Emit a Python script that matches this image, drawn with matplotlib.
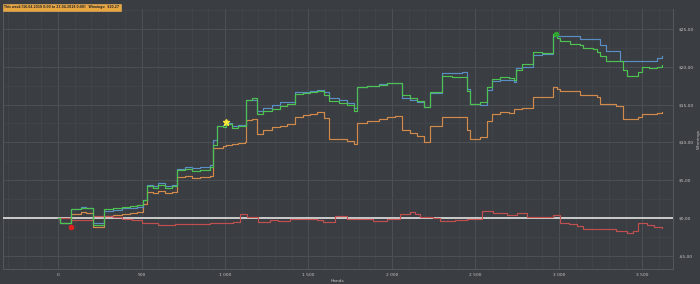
import matplotlib
matplotlib.use("Agg")
import matplotlib.pyplot as plt
from matplotlib.ticker import MultipleLocator, FuncFormatter

# ---- data ----
hands = [0, 10, 76, 136, 170, 212, 272, 330, 380, 430, 470, 507, 531, 570, 600,
         640, 680, 710, 760, 800, 850, 910, 925, 950, 990, 1005, 1040, 1080,
         1120, 1126, 1160, 1190, 1230, 1280, 1330, 1370, 1420, 1470, 1510,
         1550, 1590, 1620, 1680, 1730, 1770, 1790, 1850, 1920, 1970, 2020,
         2060, 2110, 2150, 2190, 2230, 2300, 2360, 2420, 2450, 2470, 2530,
         2570, 2600, 2650, 2700, 2730, 2745, 2780, 2846, 2900, 2965, 2990,
         3006, 3066, 3126, 3146, 3206, 3226, 3245, 3285, 3345, 3365, 3385,
         3405, 3475, 3495, 3540, 3585, 3620]
net_won = [0, -0.6, 1.15, 1.4, 1.3, -0.9, 1.15, 1.35, 1.5, 1.6, 1.7, 2.46, 4.2,
           4.0, 4.4, 4.0, 4.2, 6.3, 6.5, 6.2, 6.4, 6.75, 9.6, 12.2, 12.0, 12.4,
           11.9, 12.2, 12.2, 15.6, 15.8, 13.8, 14.1, 14.4, 14.8, 15.1, 16.4,
           16.5, 16.6, 16.8, 16.3, 15.5, 15.2, 14.9, 14.2, 17.3, 17.4, 17.6,
           17.8, 17.9, 16.2, 15.8, 15.5, 14.7, 16.6, 18.8, 18.6, 18.7, 16.8,
           15.1, 15.3, 17.3, 18.4, 18.7, 18.5, 18.3, 19.6, 20.4, 21.9, 21.8,
           24.3, 23.8, 23.4, 23.0, 22.9, 22.5, 22.3, 21.9, 21.4, 20.8, 20.8,
           20.8, 19.5, 18.8, 19.3, 19.9, 19.8, 20.0, 20.27]
allin_ev = [0, -0.6, 1.2, 1.45, 1.35, -0.7, 0.9, 1.1, 1.3, 1.4, 1.5, 2.4, 4.4,
            4.2, 4.6, 4.3, 4.4, 6.5, 6.8, 6.6, 6.8, 7.0, 10.3, 12.2, 12.3,
            12.6, 12.2, 12.3, 12.2, 15.6, 15.6, 14.2, 14.6, 15.0, 15.3, 15.4,
            16.6, 16.7, 16.8, 16.9, 16.6, 15.9, 15.6, 15.2, 14.6, 17.3, 17.5,
            17.7, 17.8, 17.9, 15.8, 15.6, 15.3, 14.7, 16.5, 19.2, 19.2, 19.3,
            17.0, 15.1, 15.0, 16.9, 18.1, 18.3, 18.2, 18.0, 19.8, 19.9, 21.6,
            21.7, 24.1, 24.1, 24.1, 24.1, 23.6, 23.6, 23.6, 23.6, 22.8, 22.1,
            22.1, 20.8, 20.8, 20.8, 20.8, 20.8, 20.8, 21.1, 21.4]
showdown = [0, -0.7, 0.6, 0.8, 0.75, -1.2, 0.25, 0.45, 0.55, 0.7, 0.8, 1.9, 3.5,
            3.3, 3.6, 3.3, 3.5, 5.4, 5.6, 5.3, 5.5, 5.6, 9.2, 9.3, 9.5, 9.6,
            9.8, 9.9, 10.0, 12.9, 13.1, 11.1, 11.6, 12.0, 12.2, 12.4, 13.3,
            13.6, 13.8, 14.0, 13.2, 10.5, 10.4, 10.2, 9.8, 12.5, 12.8, 13.1,
            13.3, 13.5, 11.6, 11.2, 10.9, 10.1, 12.2, 13.3, 13.3, 13.4, 11.6,
            10.5, 10.7, 12.8, 13.8, 14.0, 13.9, 14.4, 14.4, 14.5, 16.0, 16.0,
            17.3, 17.0, 16.8, 16.8, 16.2, 16.2, 16.2, 16.0, 15.1, 15.1, 14.8,
            14.8, 13.1, 13.1, 13.4, 13.8, 13.7, 13.9, 14.0]

red_hands = [0, 75, 130, 210, 270, 330, 380, 440, 500, 560, 600, 650, 700, 850,
             910, 1050, 1090, 1130, 1200, 1270, 1320, 1390, 1460, 1549, 1589,
             1657, 1729, 1800, 1888, 1968, 2048, 2108, 2140, 2168, 2248, 2288,
             2380, 2448, 2537, 2607, 2687, 2747, 2807, 2966, 3006, 3060, 3106,
             3146, 3250, 3345, 3405, 3445, 3475, 3525, 3570, 3615]
non_showdown = [0, -0.3, -0.2, 0.3, 0.25, 0.1, -0.1, -0.3, -0.7, -0.6, -0.9,
                -0.85, -0.8, -0.75, -0.6, -0.55, 0.5, 0.1, -0.55, -0.2, -0.35,
                -0.15, -0.1, -0.2, -0.55, 0.3, -0.1, -0.15, -0.35, -0.05, 0.5,
                0.8, 0.6, 0.1, 0.0, -0.35, -0.3, -0.1, 0.95, 0.65, 0.4, 0.75,
                0.2, 0.4, -0.6, -0.8, -1.0, -1.45, -1.4, -1.65, -1.95, -1.65,
                -0.6, -0.9, -1.1, -1.25]

marker_hands = [76, 1005, 2980]
marker_values = [-1.15, 12.7, 24.3]

title_text = "This week [16.04.2018 0:00 to 23.04.2018 0:00]   Winnings:  $20,27"

# ---- styling ----
BG = "#3a3d41"
fig = plt.figure(figsize=(7.0, 2.84), dpi=100, facecolor=BG)
ax = fig.add_axes([0.0043, 0.053, 0.957, 0.915], facecolor=BG)

ax.set_xlim(-330, 3683)
ax.set_ylim(-6.7, 27.6)

ax.xaxis.set_major_locator(MultipleLocator(500))
ax.xaxis.set_minor_locator(MultipleLocator(100))
ax.yaxis.set_major_locator(MultipleLocator(5))
ax.yaxis.set_minor_locator(MultipleLocator(2.5))
ax.grid(which="major", color="#4d5055", lw=0.7)
ax.grid(which="minor", color="#43464a", lw=0.5)
ax.set_axisbelow(True)

def xfmt(v, _):
    return f"{int(round(v)):,}".replace(",", " ")
def yfmt(v, _):
    s = f"{abs(v):.2f}".replace(".", ",")
    return ("-$" if v < -1e-9 else "$") + s
ax.xaxis.set_major_formatter(FuncFormatter(xfmt))
ax.yaxis.set_major_formatter(FuncFormatter(yfmt))

ax.yaxis.tick_right()
ax.yaxis.set_label_position("right")
ax.tick_params(which="both", length=0, colors="#c4c4c4", labelsize=3.2)
ax.tick_params(axis="x", pad=3)
ax.tick_params(axis="y", pad=4)
for s in ax.spines.values():
    s.set_color("#55585d")
    s.set_linewidth(0.7)
ax.spines["top"].set_visible(False)

ax.set_xlabel("Hands", color="#c4c4c4", fontsize=3.2, labelpad=1)
ax.set_ylabel("Winnings", color="#c4c4c4", fontsize=3.2, labelpad=2)

ax.axhline(0, color="#d6d6d6", lw=1.3, zorder=3)

ax.plot(hands, showdown, drawstyle="steps-post", color="#d28a4c", lw=0.85, zorder=4)
ax.plot(red_hands, non_showdown, drawstyle="steps-post", color="#c0504f", lw=0.85, zorder=4)
ax.plot(hands, allin_ev, drawstyle="steps-post", color="#5b8ec4", lw=0.85, zorder=5)
ax.plot(hands, net_won, drawstyle="steps-post", color="#4cc250", lw=0.85, zorder=6)

ax.plot(marker_hands[0], marker_values[0], "o", color="#e02020", ms=3, zorder=7)
ax.plot(marker_hands[1], marker_values[1], "*", color="#f5e63a", ms=5, zorder=7)
ax.plot(marker_hands[2], marker_values[2], "o", color="#2fa52f", ms=3, zorder=7)

fig.text(0.006, 0.982, title_text, fontsize=2.2, color="#2a2a2a",
         fontweight="bold", va="top", ha="left",
         bbox=dict(boxstyle="square,pad=0.5", fc="#e9a540", ec="#f0b860", lw=0.4))

fig.savefig("out.png", dpi=100, facecolor=BG)
